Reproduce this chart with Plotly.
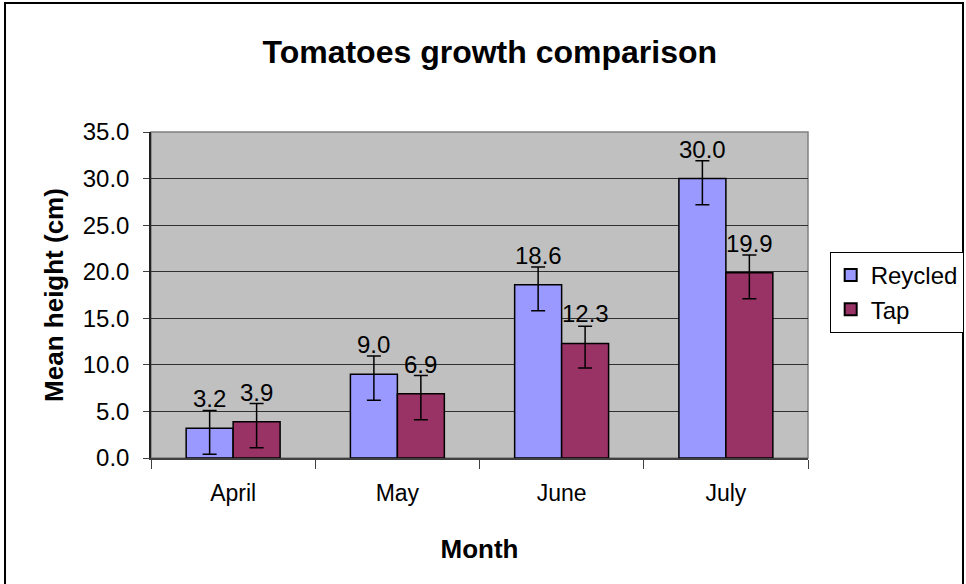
import plotly.graph_objects as go

months = ["April", "May", "June", "July"]
recycled = [3.2, 9.0, 18.6, 30.0]
tap = [3.9, 6.9, 12.3, 19.9]
recycled_err_plus = [1.9, 1.95, 1.9, 1.9]
recycled_err_minus = [2.8, 2.8, 2.8, 2.8]
tap_err_plus = [1.95, 1.95, 1.85, 1.9]
tap_err_minus = [2.8, 2.8, 2.65, 2.8]
y_ticks = [0, 5, 10, 15, 20, 25, 30, 35]

FONT = "Liberation Sans, Arial, sans-serif"

fig = go.Figure()
fig.add_trace(go.Bar(
    name="Reycled", x=months, y=recycled,
    marker=dict(color="#9999FF", line=dict(color="black", width=1.5)),
    error_y=dict(type="data", symmetric=False, array=recycled_err_plus,
                 arrayminus=recycled_err_minus, color="black", thickness=1.5, width=7),
))
fig.add_trace(go.Bar(
    name="Tap", x=months, y=tap,
    marker=dict(color="#993366", line=dict(color="black", width=1.5)),
    error_y=dict(type="data", symmetric=False, array=tap_err_plus,
                 arrayminus=tap_err_minus, color="black", thickness=1.5, width=7),
))

annotations = []
for vals, shift in ((recycled, -23.5), (tap, 23.5)):
    for m, v in zip(months, vals):
        annotations.append(dict(
            x=m, y=v, xref="x", yref="y", text=f"{v:.1f}", showarrow=False,
            xanchor="center", yanchor="bottom", xshift=shift, yshift=14,
            font=dict(family=FONT, size=24, color="black"),
        ))

fig.update_layout(
    width=966, height=584,
    margin=dict(l=151, r=158, t=132, b=126, autoexpand=False),
    paper_bgcolor="white", plot_bgcolor="#C0C0C0",
    barmode="group", bargap=0.428, bargroupgap=0,
    font=dict(family=FONT, size=23, color="black"),
    title=dict(text="<b>Tomatoes growth comparison</b>", x=0.507, xanchor="center",
               y=1 - 52 / 584, yanchor="middle", yref="container",
               font=dict(family=FONT, size=32, color="black")),
    legend=dict(x=1.033, y=0.632, xanchor="left", yanchor="top",
                bgcolor="white", bordercolor="black", borderwidth=1,
                font=dict(family=FONT, size=24, color="black"),
                itemsizing="constant", tracegroupgap=0),
    annotations=annotations,
    shapes=[
        dict(type="rect", xref="paper", yref="paper", x0=0, x1=1, y0=0, y1=1,
             line=dict(color="#808080", width=1.5), layer="below"),
        dict(type="rect", xref="paper", yref="paper",
             x0=(5 - 151) / 657, x1=(963 - 151) / 657,
             y0=(458 - 600) / 326, y1=(458 - 3) / 326,
             line=dict(color="black", width=2), layer="below"),
    ],
)

fig.update_xaxes(
    type="category", tickson="boundaries", ticks="outside", ticklen=9,
    tickcolor="#404040", showline=True, linecolor="#404040", linewidth=1.5,
    showgrid=False, ticklabelstandoff=14,
    tickfont=dict(family=FONT, size=23, color="black"),
    title=dict(text="<b>Month</b>", standoff=34,
               font=dict(family=FONT, size=26, color="black")),
)
fig.update_yaxes(
    range=[0, 35], tickvals=y_ticks, tickformat=".1f", ticks="outside", ticklen=6,
    tickcolor="#404040", showline=True, linecolor="#202020", linewidth=1.5,
    showgrid=True, gridcolor="#303030", gridwidth=1, zeroline=False,
    ticklabelstandoff=9,
    tickfont=dict(family=FONT, size=24, color="black"),
    title=dict(text="<b>Mean height (cm)</b>", standoff=12,
               font=dict(family=FONT, size=26, color="black")),
)

fig.write_html(
    "out.html",
    config={"displayModeBar": False},
    post_script="document.body.style.margin='0';document.body.style.overflow='hidden';"
                "document.documentElement.style.overflow='hidden';",
)
